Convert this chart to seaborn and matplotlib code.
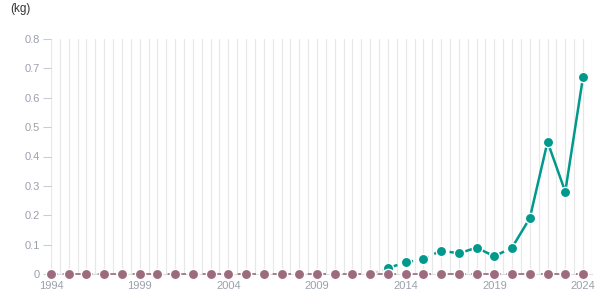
import matplotlib
matplotlib.use("Agg")
import matplotlib.pyplot as plt
import seaborn as sns
import pandas as pd
import numpy as np

years = list(range(1994, 2025))
series_zero = [0.0] * len(years)
teal_years = [2013, 2014, 2015, 2016, 2017, 2018, 2019, 2020, 2021, 2022, 2023, 2024]
teal_values = [0.02, 0.04, 0.05, 0.08, 0.07, 0.09, 0.06, 0.09, 0.19, 0.45, 0.28, 0.67]
x_tick_labels = ["1994", "1999", "2004", "2009", "2014", "2019", "2024"]
y_ticks = [0, 0.1, 0.2, 0.3, 0.4, 0.5, 0.6, 0.7, 0.8]
y_tick_labels = ["0", "0.1", "0.2", "0.3", "0.4", "0.5", "0.6", "0.7", "0.8"]

TEAL = "#00998c"
MAUVE = "#9c6b7d"

sns.set_style("white")
plt.rcParams['font.family'] = ['Liberation Sans', 'DejaVu Sans']

W, H = 615, 305
fig = plt.figure(figsize=(W / 100, H / 100), dpi=100)
left, right, top, bottom = 51, 592, 39, 274
ax = fig.add_axes([left / W, 1 - bottom / H, (right - left) / W, (bottom - top) / H])

spacing = (583 - 51) / 30
ax.set_xlim(1994, 1994 + (right - left) / spacing)
ax.set_ylim(0, 0.8)

# vertical gridlines every half year
for g in np.arange(1994, 2024.51, 0.5):
    ax.axvline(g, color="#e8e8e8", lw=0.9, zorder=0)

df_teal = pd.DataFrame({"year": teal_years, "value": teal_values})
dash_part = df_teal[df_teal.year <= 2020]
solid_part = df_teal[df_teal.year >= 2020]

conn = pd.DataFrame({"year": [2012, teal_years[0]], "value": [0.0, teal_values[0]]})
sns.lineplot(data=conn, x="year", y="value", ax=ax, color="#d8d8d8", lw=1.5,
             linestyle=(0, (4, 2)), zorder=2)
sns.lineplot(data=dash_part, x="year", y="value", ax=ax, color=TEAL, lw=1.8,
             linestyle=(0, (4, 2.5)), zorder=3)
sns.lineplot(data=solid_part, x="year", y="value", ax=ax, color=TEAL, lw=1.8, zorder=3)
sns.scatterplot(data=df_teal, x="year", y="value", ax=ax, color=TEAL, s=55,
                edgecolor="white", linewidth=1.0, zorder=4, clip_on=False)

df_zero = pd.DataFrame({"year": years, "value": series_zero})
sns.lineplot(data=df_zero, x="year", y="value", ax=ax, color=MAUVE, lw=1.2,
             linestyle=(0, (4, 3)), zorder=5, clip_on=False)
sns.scatterplot(data=df_zero, x="year", y="value", ax=ax, color=MAUVE, s=55,
                edgecolor="white", linewidth=1.0, zorder=6, clip_on=False)

ax.set_xticks([int(t) for t in x_tick_labels])
ax.set_xticklabels(x_tick_labels)
ax.set_yticks(y_ticks)
ax.set_yticklabels(y_tick_labels)
ax.tick_params(axis="x", length=0, pad=5, labelsize=8, labelcolor="#9aa0ab")
ax.tick_params(axis="y", length=6, width=0.8, color="#cccccc", pad=2,
               labelsize=8, labelcolor="#9aa0ab", left=True)
ax.set_xlabel("")
ax.set_ylabel("")
for s in ["top", "right", "left"]:
    ax.spines[s].set_visible(False)
ax.spines["bottom"].set_color("#dddddd")
ax.spines["bottom"].set_linewidth(0.8)

fig.text(10 / W, 1 - 9 / H, "(kg)", fontsize=8.5, color="#333333", va="center", ha="left")

fig.savefig("out.png", dpi=100)
